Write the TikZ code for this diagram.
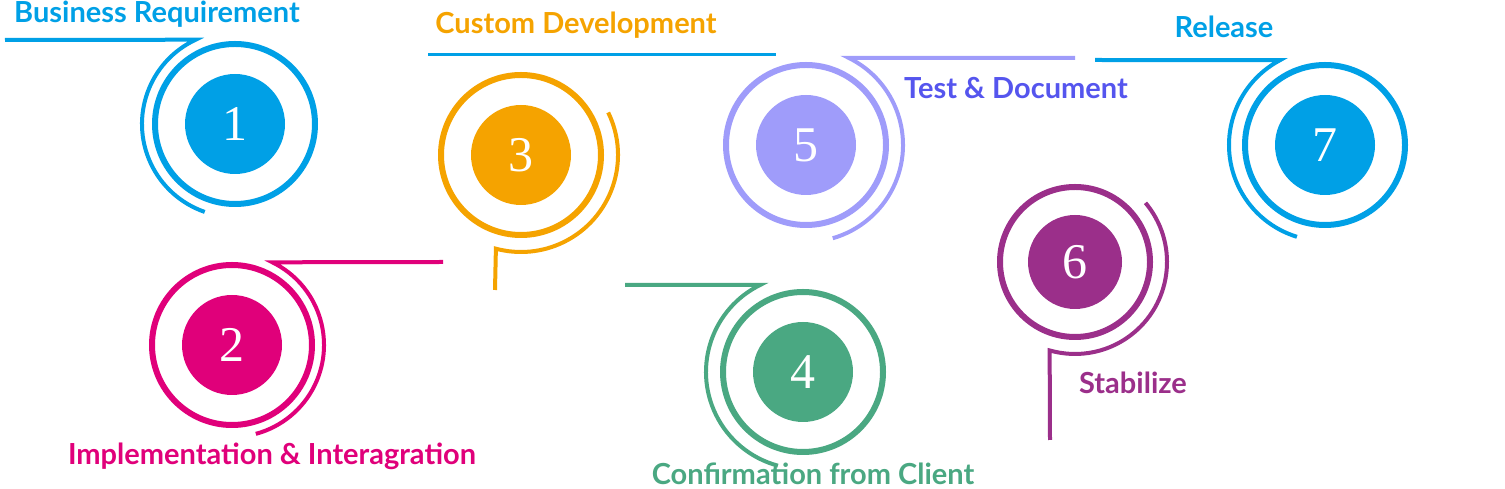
\documentclass[tikz,border=0pt]{standalone}
\usepackage{fontspec}
\usetikzlibrary{calc}
\setmainfont{Lato}
\newfontfamily\numfont{Liberation Serif}
\definecolor{cblue}{HTML}{00A0E6}
\definecolor{corange}{HTML}{F5A300}
\definecolor{clav}{HTML}{9F9CFA}
\definecolor{cpurple}{HTML}{9B2F8A}
\definecolor{cmag}{HTML}{E0007A}
\definecolor{cgreen}{HTML}{4AA882}
\definecolor{cindigo}{HTML}{5555EE}

\begin{document}
\begin{tikzpicture}[x=1pt,y=1pt]
    \tikzset{disc/.style={circle,fill=#1,minimum size=100pt,inner sep=0pt,text=white,font=\numfont\fontsize{50}{50}\selectfont}}
    \tikzset{ring/.style={draw=#1,line width=6pt}}
    \tikzset{tail/.style={draw=#1,line width=4pt}}
    \tikzset{steplabel/.style={text=#1,inner sep=1pt,font=\bfseries\fontsize{29}{30}\selectfont}}
    \useasboundingbox (0,0) rectangle (1505,489);

    % Draw the step discs
    \node[disc=cblue] (s1) at (235,365) {1};
    \node[disc=cmag] (s2) at (232,144) {2};
    \node[disc=corange] (s3) at (521,334) {3};
    \node[disc=cgreen] (s4) at (803,117) {4};
    \node[disc=clav] (s5) at (806,344) {5};
    \node[disc=cpurple,minimum size=94pt] (s6) at (1075,227) {6};
    \node[disc=cblue] (s7) at (1325,344) {7};

    % Rings round every disc
    \foreach \n/\c in {s1/cblue,s2/cmag,s3/corange,s4/cgreen,s5/clav,s7/cblue}
        \draw[ring=\c] (\n.center) circle (80);
    \draw[ring=cpurple] (s6.center) circle (75);

    % Tails and outer arcs
    \coordinate (t1) at (5,449);
    \draw[tail=cblue] (t1) -- ($(s1.center)+(115:93)$) arc (115:251:93);
    \coordinate (t2) at (443,227);
    \draw[tail=cmag] (t2) -- ($(s2.center)+(64:92)$) arc (64:-75:92);
    \coordinate (t3) at (495,199);
    \draw[tail=corange] ($(s3.center)+(26:97)$) arc (26:-105:97) -- (t3);
    \coordinate (t4) at (625,204);
    \draw[tail=cgreen] (t4) -- ($(s4.center)+(116:97)$) arc (116:255:97);
    \coordinate (t5) at (1075,431);
    \draw[tail=clav] (t5) -- ($(s5.center)+(64:97)$) arc (64:-74:97);
    \coordinate (t6) at (1050,49);
    \draw[tail=cpurple] ($(s6.center)+(40:92)$) arc (40:-106:92) -- (t6);
    \coordinate (t7) at (1095,429);
    \draw[tail=cblue] (t7) -- ($(s7.center)+(118:96)$) arc (118:253:96);
    \coordinate (b1) at (428,434);
    \coordinate (b2) at (776,434);
    \draw[tail=cblue,line width=3pt] (b1) -- (b2);

    % Step labels
    \node[steplabel=cblue] (l1) at (157,475) {Business Requirement};
    \node[steplabel=cmag] (l2) at (272,33) {Implementation \& Interagration};
    \node[steplabel=corange] (l3) at (576,464) {Custom Development};
    \node[steplabel=cgreen] (l4) at (813,15) {Confirmation from Client};
    \node[steplabel=cindigo] (l5) at (1016,401) {Test \& Document};
    \node[steplabel=cpurple] (l6) at (1133,106) {Stabilize};
    \node[steplabel=cblue] (l7) at (1224,462) {Release};
\end{tikzpicture}
\end{document}
